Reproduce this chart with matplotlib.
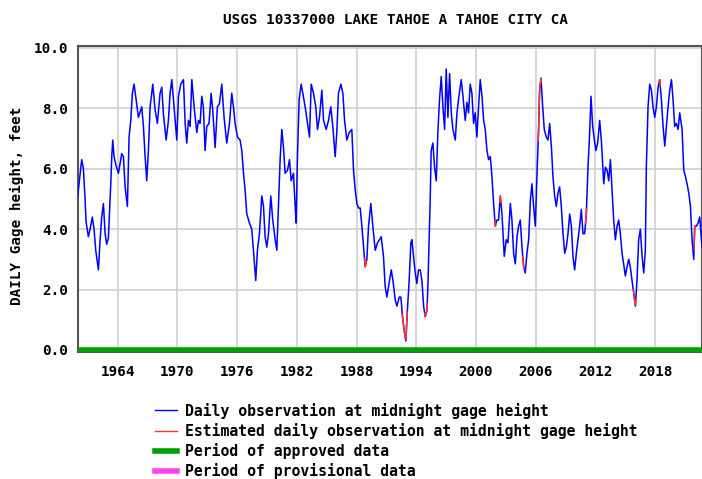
import numpy as np
import matplotlib
matplotlib.use("Agg")
import matplotlib.pyplot as plt
from matplotlib.lines import Line2D

# gage height readings (decimal year, feet)
years = [
    1960.0, 1960.17, 1960.4, 1960.57, 1960.74, 1960.84, 1961.07, 1961.24, 1961.47, 1961.64,
    1961.81, 1962.08, 1962.24, 1962.41, 1962.58, 1962.75, 1962.91, 1963.08, 1963.25, 1963.32,
    1963.42, 1963.52, 1963.65, 1963.85, 1964.09, 1964.42, 1964.59, 1964.76, 1964.99, 1965.16,
    1965.33, 1965.49, 1965.66, 1965.86, 1966.1, 1966.43, 1966.6, 1966.77, 1966.93, 1967.1,
    1967.27, 1967.54, 1967.77, 1968.0, 1968.27, 1968.44, 1968.61, 1968.88, 1969.11, 1969.28,
    1969.45, 1969.68, 1969.95, 1970.12, 1970.35, 1970.62, 1970.79, 1970.95, 1971.12, 1971.29,
    1971.46, 1971.69, 1971.96, 1972.13,
    1972.29, 1972.46, 1972.62, 1972.79, 1972.96, 1973.19, 1973.4, 1973.56, 1973.8, 1974.03,
    1974.23, 1974.47, 1974.7, 1974.97, 1975.24, 1975.47, 1975.64, 1975.81, 1976.04, 1976.31,
    1976.48, 1976.65, 1976.81, 1976.98, 1977.25, 1977.48, 1977.65, 1977.88, 1978.05, 1978.25,
    1978.49, 1978.66, 1978.82, 1978.99, 1979.16, 1979.39, 1979.59, 1979.83, 1980.0, 1980.16,
    1980.33, 1980.5, 1980.67, 1980.83, 1981.07, 1981.27, 1981.44, 1981.67, 1981.84, 1981.94,
    1982.07, 1982.24, 1982.44, 1982.61, 1982.84, 1983.08, 1983.28, 1983.45, 1983.68, 1983.91,
    1984.08, 1984.28, 1984.52, 1984.69, 1984.95, 1985.19, 1985.42, 1985.62, 1985.86, 1986.02,
    1986.19, 1986.43, 1986.63, 1986.8, 1987.03, 1987.27, 1987.53, 1987.7, 1987.87, 1988.04,
    1988.2,
    1988.37, 1988.54, 1988.71, 1988.87, 1989.04, 1989.21, 1989.44, 1989.64, 1989.88, 1990.11,
    1990.31, 1990.48, 1990.71, 1990.88, 1991.05, 1991.32, 1991.49, 1991.66, 1991.89, 1992.06,
    1992.29, 1992.46, 1992.62, 1992.83, 1992.96, 1993.09, 1993.29, 1993.46, 1993.56, 1993.73,
    1993.9, 1994.06, 1994.23, 1994.4, 1994.57, 1994.74, 1994.9, 1995.07, 1995.17, 1995.3,
    1995.4, 1995.5, 1995.67, 1995.84, 1996.01, 1996.17, 1996.34, 1996.51, 1996.68, 1996.85,
    1997.01, 1997.18, 1997.35, 1997.52, 1997.68, 1997.92, 1998.09, 1998.25, 1998.52, 1998.69,
    1998.92, 1999.09, 1999.25, 1999.42, 1999.59, 1999.76, 1999.92, 2000.09, 2000.26, 2000.43,
    2000.6, 2000.77, 2000.93, 2001.1, 2001.27, 2001.44, 2001.6, 2001.77, 2001.94, 2002.1,
    2002.27, 2002.44, 2002.61, 2002.84, 2003.04, 2003.21, 2003.45, 2003.61, 2003.78, 2003.95,
    2004.12, 2004.28,
    2004.45, 2004.62, 2004.79, 2004.95, 2005.12, 2005.29, 2005.46, 2005.62, 2005.79, 2005.96,
    2006.13, 2006.29, 2006.39, 2006.53, 2006.7, 2006.86, 2007.06, 2007.23, 2007.4, 2007.57,
    2007.73, 2007.9, 2008.07, 2008.24, 2008.4, 2008.57, 2008.74, 2008.91, 2009.07, 2009.24,
    2009.41, 2009.58, 2009.74, 2009.91, 2010.08, 2010.25, 2010.41, 2010.58, 2010.75, 2010.91,
    2011.08, 2011.25, 2011.42, 2011.55, 2011.72, 2011.89, 2012.05, 2012.22, 2012.42, 2012.59,
    2012.83, 2013.0, 2013.17, 2013.33, 2013.5, 2013.66, 2013.83, 2014.0, 2014.17, 2014.33,
    2014.5, 2014.67, 2014.83, 2015.0, 2015.17, 2015.34, 2015.5, 2015.67, 2015.84, 2016.01,
    2016.17, 2016.34, 2016.51, 2016.68, 2016.85, 2017.01, 2017.11, 2017.28, 2017.45, 2017.62,
    2017.78, 2017.95, 2018.12, 2018.29, 2018.45, 2018.62, 2018.79, 2018.96, 2019.12, 2019.29,
    2019.46, 2019.63, 2019.79, 2019.96, 2020.13, 2020.3, 2020.46, 2020.7, 2020.87, 2021.03,
    2021.2, 2021.37, 2021.54, 2021.7, 2021.87, 2021.97, 2022.14, 2022.3, 2022.47, 2022.7,
]
height = [
    5.1, 5.6, 6.3, 6.0, 5.0, 4.25, 3.75, 4.0, 4.4, 4.0,
    3.3, 2.65, 3.6, 4.4, 4.85, 3.85, 3.5, 3.7, 4.95, 5.5,
    6.4, 6.95, 6.4, 6.1, 5.85, 6.5, 6.4, 5.4, 4.75, 7.05,
    7.6, 8.5, 8.8, 8.3, 7.7, 8.05, 7.4, 6.4, 5.6, 6.6,
    8.05, 8.8, 7.95, 7.5, 8.5, 8.7, 7.8, 6.95, 7.6, 8.5,
    8.95, 8.05, 6.95, 8.4, 8.8, 8.95, 7.5, 6.85, 7.6, 7.4,
    8.95, 8.05, 7.2, 7.6,
    7.5, 8.4, 8.05, 6.6, 7.4, 7.5, 8.5, 7.95, 6.7, 8.05,
    8.15, 8.8, 7.7, 6.85, 7.5, 8.5, 8.05, 7.5, 7.05, 6.95,
    6.6, 5.85, 5.3, 4.5, 4.2, 4.0, 3.3, 2.3, 3.3, 3.85,
    5.1, 4.75, 3.75, 3.4, 3.85, 5.1, 4.3, 3.65, 3.3, 4.75,
    6.3, 7.3, 6.7, 5.85, 5.95, 6.3, 5.6, 5.85, 4.75, 4.2,
    6.4, 8.3, 8.8, 8.5, 8.05, 7.5, 7.05, 8.8, 8.5, 8.05,
    7.3, 7.7, 8.6, 7.6, 7.3, 7.6, 8.05, 7.4, 6.4, 7.2,
    8.5, 8.8, 8.5, 7.6, 6.95, 7.2, 7.3, 5.95, 5.3, 4.85,
    4.7,
    4.7, 4.1, 3.4, 2.75, 3.0, 4.1, 4.85, 4.1, 3.3, 3.55,
    3.65, 3.75, 3.1, 2.1, 1.75, 2.3, 2.65, 2.3, 1.65, 1.45,
    1.75, 1.75, 1.1, 0.55, 0.3, 1.2, 2.3, 3.55, 3.65, 3.1,
    2.55, 2.2, 2.65, 2.65, 2.3, 1.45, 1.1, 1.3, 2.1, 3.65,
    4.95, 6.6, 6.85, 6.05, 5.6, 7.2, 8.3, 9.05, 8.05, 7.3,
    9.3, 7.7, 9.15, 7.85, 7.3, 6.95, 7.85, 8.3, 8.95, 8.4,
    7.6, 8.2, 7.85, 8.8, 8.5, 7.5, 7.85, 7.05, 8.05, 8.95,
    8.4, 7.6, 7.3, 6.6, 6.3, 6.4, 5.75, 4.85, 4.1, 4.3,
    4.3, 5.1, 4.5, 3.1, 3.65, 3.55, 4.85, 4.3, 3.2, 2.85,
    3.75, 4.1,
    4.3, 3.4, 2.75, 2.55, 3.2, 3.65, 4.95, 5.5, 4.75, 4.1,
    5.85, 7.3, 8.6, 9.0, 8.05, 7.3, 7.05, 6.95, 7.5, 6.75,
    5.75, 5.1, 4.75, 5.2, 5.4, 4.75, 3.85, 3.2, 3.4, 3.85,
    4.5, 4.1, 3.1, 2.65, 3.2, 3.65, 4.1, 4.65, 3.85, 3.85,
    4.5, 6.05, 7.2, 8.4, 7.4, 6.95, 6.6, 6.85, 7.6, 6.95,
    5.5, 6.05, 5.95, 5.6, 6.3, 5.3, 4.3, 3.65, 4.1, 4.3,
    3.85, 3.2, 2.85, 2.45, 2.75, 3.0, 2.75, 2.3, 1.9, 1.45,
    2.3, 3.65, 4.0, 3.1, 2.55, 3.3, 6.05, 8.05, 8.8, 8.6,
    8.05, 7.7, 8.05, 8.7, 8.95, 8.3, 7.4, 6.75, 7.4, 8.05,
    8.6, 8.95, 8.3, 7.4, 7.5, 7.3, 7.85, 7.3, 5.95, 5.75,
    5.5, 5.2, 4.75, 3.65, 3.0, 4.1, 4.1, 4.2, 4.4, 3.4,
]

# periods flagged as estimated (red)
est_start = [1988.8, 1992.6, 1994.85, 2001.9, 2002.4, 2004.7, 2006.25, 2011.0, 2015.8, 2018.4, 2021.9]
est_end = [1989.0, 1993.1, 1995.1, 2002.0, 2002.5, 2004.85, 2006.55, 2011.1, 2016.05, 2018.5, 2022.0]

year_ticks = [1964, 1970, 1976, 1982, 1988, 1994, 2000, 2006, 2012, 2018]
y_ticks = [0, 2, 4, 6, 8, 10]

mono = "DejaVu Sans Mono"
fig = plt.figure(figsize=(7.02, 4.79), dpi=100)
ax = fig.add_axes([0.1107, 0.265, 0.8893, 0.64])

ax.plot(years, height, color="#0000ff", lw=1.1, zorder=3)
for s, e in zip(est_start, est_end):
    xs = np.linspace(s, e, 10)
    ax.plot(xs, np.interp(xs, years, height), color="#ff3030", lw=1.1, zorder=4)

# approved period bar
ax.plot([1960.0, 2022.8], [0, 0], color="#00a000", lw=4, solid_capstyle="butt", zorder=5)

ax.set_xlim(1960.0, 2022.7)
ax.set_ylim(-0.07, 10.08)
ax.set_xticks(year_ticks)
ax.set_yticks(y_ticks)
ax.set_yticklabels(["%.1f" % v for v in y_ticks])
ax.grid(True, color="#d0d0d0", lw=1.2)
ax.set_axisbelow(True)
ax.tick_params(length=0, labelsize=10.3)
ax.tick_params(axis="y", pad=7)
ax.tick_params(axis="x", pad=9)
for lab in ax.get_xticklabels() + ax.get_yticklabels():
    lab.set_fontfamily(mono)
    lab.set_fontweight("bold")
for sp in ax.spines.values():
    sp.set_color("#555555")
    sp.set_linewidth(1.5)

fig.text(0.563, 0.958, "USGS 10337000 LAKE TAHOE A TAHOE CITY CA", ha="center", va="center",
         family=mono, weight="bold", size=10.3)
fig.text(0.024, 0.57, "DAILY Gage height, feet", rotation=90, ha="center", va="center",
         family=mono, weight="bold", size=10.3)

handles = [
    Line2D([], [], color="#0000ff", lw=1),
    Line2D([], [], color="#ff3030", lw=1),
    Line2D([], [], color="#00a000", lw=4),
    Line2D([], [], color="#ff44ee", lw=4),
]
labels = [
    "Daily observation at midnight gage height",
    "Estimated daily observation at midnight gage height",
    "Period of approved data",
    "Period of provisional data",
]
fig.legend(handles, labels, loc="upper left", bbox_to_anchor=(0.21, 0.175),
           frameon=False, borderpad=0, handlelength=1.5, handletextpad=0.55,
           labelspacing=0.28, prop={"family": mono, "weight": "bold", "size": 10.6})

fig.savefig("out.png", dpi=100)
